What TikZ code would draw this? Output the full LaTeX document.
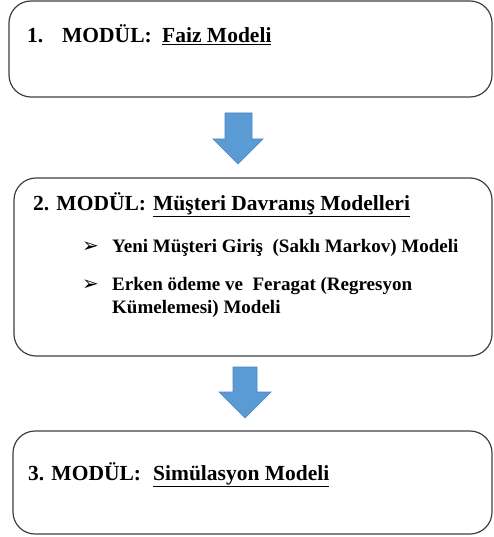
\documentclass[tikz,border=0pt]{standalone}
\usepackage{fontspec}
\setmainfont{Liberation Serif}
\newfontfamily\symfont{DejaVu Sans}
\definecolor{arrowfill}{HTML}{5B9BD5}
\definecolor{arrowedge}{HTML}{4A86C0}
\definecolor{boxedge}{HTML}{3F3F3F}
\begin{document}
\begin{tikzpicture}[x=1pt,y=-1pt,
  modbox/.style={draw=boxedge,line width=1.2pt,rounded corners=22pt},
  head/.style={anchor=base west,inner sep=0pt,font=\fontsize{21.5}{25}\selectfont\bfseries},
  item/.style={anchor=base west,inner sep=0pt,font=\fontsize{19}{23}\selectfont\bfseries},
  bul/.style={anchor=base west,inner sep=0pt,font=\fontsize{20}{22}\selectfont\symfont},
  bigarrow/.style={fill=arrowfill,draw=arrowedge,line width=0.6pt}]
\useasboundingbox (0,0) rectangle (493,537);
% boxes
\draw[modbox] (9,1) rectangle (492,97);
\draw[modbox] (14,178) rectangle (492,356);
\draw[modbox] (13,431) rectangle (492,534);
% texts box 1
\node[head] (t1a) at (27,43) {1.};
\node[head] (t1b) at (62,43) {MODÜL:};
\node[head] (t1c) at (162,43) {\underline{Faiz Modeli}};
% box 2
\node[head] (t2a) at (33,210) {2. MODÜL:};
\node[head] (t2b) at (153,210) {\underline{Müşteri Davranış Modelleri}};
\node[bul] (b1) at (82,252) {➢};
\node[item] (i1) at (112,252) {Yeni Müşteri Giriş\ \ (Saklı Markov) Modeli};
\node[bul] (b2) at (82,290) {➢};
\node[item] (i2) at (112,290) {Erken ödeme ve\ \ Feragat (Regresyon};
\node[item] (i3) at (112,313) {Kümelemesi) Modeli};
% box 3
\node[head] (t3a) at (28,480) {3. MODÜL:};
\node[head] (t3b) at (153,480) {\underline{Simülasyon Modeli}};
% arrows
\draw[bigarrow] (225,113) -- (252,113) -- (252,139) -- (263,139) -- (238,164) -- (213,139) -- (225,139) -- cycle;
\draw[bigarrow] (233,367) -- (257,367) -- (257,392) -- (271,392) -- (245,418) -- (219,392) -- (233,392) -- cycle;
\end{tikzpicture}
\end{document}
